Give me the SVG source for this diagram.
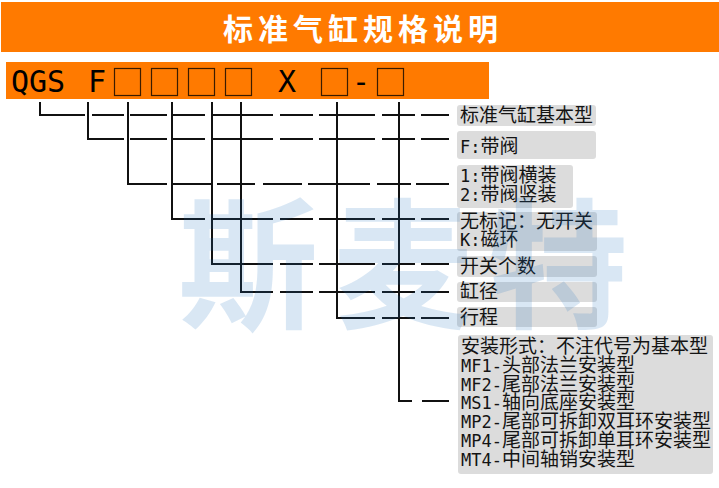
<svg xmlns="http://www.w3.org/2000/svg" width="719" height="488" viewBox="0 0 719 488">
<defs>
<style>
.cjk{font-family:"Noto Sans CJK SC","Noto Sans CJK JP",sans-serif;font-size:19px;fill:#141414}
.lat{font-family:"DejaVu Sans Mono","Liberation Mono",monospace;font-size:17px}
.code{font-family:"DejaVu Sans Mono","Liberation Mono",monospace;font-size:30px;fill:#000}
.box{fill:#dcdcdc}
.conn{fill:none;stroke:#111;stroke-width:2;stroke-linejoin:miter}
.slot{fill:none;stroke:#3b1c00;stroke-width:1.2}
.orange{fill:#ff7a00}
</style>
</defs>
<rect width="719" height="488" fill="#fff"/>

<g id="header">
<rect class="orange" x="1" y="2" width="718" height="50"/>
<text x="223" y="40" font-family="Noto Sans CJK SC, sans-serif" font-weight="bold" font-size="30" letter-spacing="5" fill="#fff">标准气缸规格说明</text>
</g>

<g id="model-code">
<rect class="orange" x="6" y="62" width="483" height="37"/>
<text class="code" x="11" y="92">QGS</text>
<text class="code" x="88" y="92">F</text>
<rect class="slot" x="114.5" y="68.5" width="26" height="27"/>
<rect class="slot" x="151.5" y="68.5" width="26" height="27"/>
<rect class="slot" x="188.5" y="68.5" width="26" height="27"/>
<rect class="slot" x="225.5" y="68.5" width="26" height="27"/>
<text class="code" x="278" y="92">X</text>
<rect class="slot" x="321.5" y="68.5" width="26" height="27"/>
<text class="code" x="352" y="92">-</text>
<rect class="slot" x="377.5" y="68.5" width="26" height="27"/>
</g>

<g id="connectors">
<path class="conn" d="M40 102V115H85M92 115H124M130 115H167M173 115H205M212 115H273M280 115H313M319 115H375M382 115H415M421 115H449"/>
<path class="conn" d="M88 102V139H124M130 139H167M173 139H205M212 139H273M280 139H313M319 139H375M382 139H415M421 139H449"/>
<path class="conn" d="M128 102V184H167M172 184H212M217 184H255M263 184H302M308 184H370M377 184H411M416 184H449"/>
<path class="conn" d="M172 102V219H205M212 219H273M280 219H313M319 219H375M382 219H415M421 219H449"/>
<path class="conn" d="M212 102V264H273M280 264H313M319 264H375M382 264H415M421 264H449"/>
<path class="conn" d="M241 102V292H273M280 292H313M319 292H375M382 292H415M421 292H449"/>
<path class="conn" d="M337 102V318H375M382 318H415M421 318H449"/>
<path class="conn" d="M399 102V401H412M422 401H449"/>
</g>

<g id="basic-type">
<rect class="box" x="457" y="105" width="139" height="21" rx="3"/>
<text class="cjk" x="460" y="122">标准气缸基本型</text>
</g>
<g id="valve">
<rect class="box" x="457" y="131" width="139" height="28" rx="3"/>
<text class="cjk" x="460" y="153"><tspan class="lat">F:</tspan>带阀</text>
</g>
<g id="valve-mount">
<rect class="box" x="457" y="165" width="116" height="43" rx="3"/>
<text class="cjk" x="460" y="182"><tspan class="lat">1:</tspan>带阀横装</text>
<text class="cjk" x="460" y="201"><tspan class="lat">2:</tspan>带阀竖装</text>
</g>
<g id="switch">
<rect class="box" x="457" y="212" width="140" height="39" rx="3"/>
<text class="cjk" x="460" y="228">无标记：无开关</text>
<text class="cjk" x="460" y="246"><tspan class="lat">K:</tspan>磁环</text>
</g>
<g id="switch-count">
<rect class="box" x="457" y="256" width="140" height="21" rx="3"/>
<text class="cjk" x="460" y="273">开关个数</text>
</g>
<g id="bore">
<rect class="box" x="457" y="282" width="140" height="20" rx="3"/>
<text class="cjk" x="460" y="298">缸径</text>
</g>
<g id="stroke">
<rect class="box" x="457" y="307" width="140" height="20" rx="3"/>
<text class="cjk" x="460" y="324">行程</text>
</g>
<g id="mounting">
<rect class="box" x="458" y="335" width="255" height="139" rx="3"/>
<text class="cjk" x="461" y="353">安装形式：不注代号为基本型</text>
<text class="cjk" x="461" y="372"><tspan class="lat">MF1-</tspan>头部法兰安装型</text>
<text class="cjk" x="461" y="391"><tspan class="lat">MF2-</tspan>尾部法兰安装型</text>
<text class="cjk" x="461" y="409"><tspan class="lat">MS1-</tspan>轴向底座安装型</text>
<text class="cjk" x="461" y="428"><tspan class="lat">MP2-</tspan>尾部可拆卸双耳环安装型</text>
<text class="cjk" x="461" y="447"><tspan class="lat">MP4-</tspan>尾部可拆卸单耳环安装型</text>
<text class="cjk" x="461" y="466"><tspan class="lat">MT4-</tspan>中间轴销安装型</text>
</g>

<g id="watermark">
<text x="178" y="317" font-family="Noto Sans CJK SC, sans-serif" font-weight="bold" font-size="140" letter-spacing="15" fill="#1f6fbf" fill-opacity="0.17">斯麦特</text>
</g>
</svg>
